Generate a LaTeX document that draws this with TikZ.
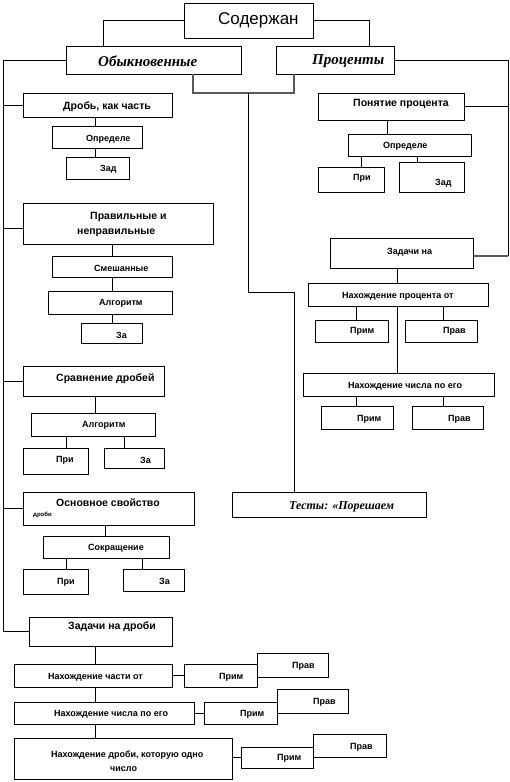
\documentclass[tikz,border=0pt]{standalone}
\usepackage{fontspec}
\setmainfont{Liberation Sans}
\newfontfamily\serifbi{Liberation Serif}
\usetikzlibrary{fit}
\tikzset{
  box/.style={draw, line width=0.8pt, inner sep=0pt, fill=white},
  sm/.style={font=\fontsize{9}{10}\selectfont\bfseries, inner sep=0pt, anchor=west},
  hd/.style={font=\fontsize{10.5}{13}\selectfont\bfseries, inner sep=0pt, anchor=west},
  itx/.style={font=\serifbi\fontsize{15}{17}\selectfont\bfseries\itshape, inner sep=0pt, anchor=west},
  ttl/.style={font=\fontsize{17}{19}\selectfont, inner sep=0pt, anchor=west},
  ln/.style={line width=0.8pt},
  gln/.style={line width=1.3pt, draw=gray!70!black}
}
% [style]{name}{x1}{y1}{x2}{y2}{text x}{text y}{text}
\newcommand\bx[9][sm]{%
  \node[box, fit={(#3,#4)(#5,#6)}] (#2) {};
  \node[#1] (#2-t) at (#7,#8) {#9};
}
\newcommand\vl[3]{\draw[ln] (#1,0 |- #2.south) -- (#1,0 |- #3.north);}
\begin{document}
\begin{tikzpicture}[x=1pt,y=-1pt]
\useasboundingbox (0,0) rectangle (509,782);
% top
\bx[ttl]{title}{184}{3}{313}{38}{218}{20}{Содержан}
\bx[itx]{obyk}{66}{46}{241}{74}{98}{61}{Обыкновенные}
\bx[itx]{proc}{276}{46}{394}{74}{312}{61}{Проценты}
% left column
\bx[hd]{drob}{23}{93}{172}{117}{63}{107}{Дробь, как часть}
\bx{opr1}{52}{126}{142}{148}{86}{139}{Определе}
\bx{zad1}{66}{157}{129}{179}{100}{169}{Зад}
\node[box, fit={(23,203)(213,244)}] (prav) {};
\node[font=\fontsize{10.5}{15}\selectfont\bfseries, inner sep=0pt, anchor=west, align=left] (prav-t) at (77,224.5) {\hspace*{13pt}Правильные и\\неправильные};
\bx{smesh}{52}{256}{172}{277}{94}{268}{Смешанные}
\bx{alg1}{48}{291}{172}{314}{99}{303}{Алгоритм}
\bx{za1}{81}{323}{142}{343}{116}{335}{За}
\bx[hd]{srav}{23}{366}{164}{396}{56}{379}{Сравнение дробей}
\bx{alg2}{31}{413}{155}{436}{82}{425}{Алгоритм}
\bx{pri3}{23}{448}{88}{474}{56}{460}{При}
\bx{za3}{104}{448}{164}{468}{140}{460}{За}
\bx[hd]{osn}{23}{492}{194}{525}{56}{503}{Основное свойство}
\node[font=\fontsize{6}{7}\selectfont\bfseries, inner sep=0pt, anchor=west] (osn-s) at (33,515) {дроби};
\bx{sokr}{43}{536}{169}{558}{88}{548}{Сокращение}
\bx{pri4}{23}{569}{88}{594}{57}{582}{При}
\bx{za4}{123}{569}{184}{591}{159}{581}{За}
\bx[hd]{zadd}{29}{617}{172}{646}{68}{627}{Задачи на дроби}
\bx{nch}{14}{664}{172}{687}{48}{677}{Нахождение части от}
\bx{prim1}{184}{664}{257}{687}{219}{677}{Прим}
\bx{prav1}{257}{653}{328}{677}{292}{666}{Прав}
\bx{nchs}{14}{702}{194}{724}{54}{714}{Нахождение числа по его}
\bx{prim2}{204}{702}{277}{724}{240}{714}{Прим}
\bx{prav2}{277}{689}{348}{713}{313}{702}{Прав}
\node[box, fit={(14,738)(232,779)}] (ndr) {};
\node[font=\fontsize{9}{14}\selectfont\bfseries, inner sep=0pt, anchor=west, align=left] (ndr-t) at (51,761) {Нахождение дроби, которую одно\\\hspace*{59pt}число};
\bx{prim3}{241}{747}{313}{768}{277}{758}{Прим}
\bx{prav3}{313}{734}{386}{757}{350}{747}{Прав}
% right column
\bx[hd]{pon}{318}{93}{464}{120}{353}{104}{Понятие процента}
\bx{opr2}{348}{134}{471}{156}{383}{146}{Определе}
\bx{pri2}{318}{167}{384}{192}{353}{178}{При}
\bx{zad2}{399}{162}{464}{192}{435}{183}{Зад}
\bx{zadp}{330}{238}{473}{268}{387}{252}{Задачи на}
\bx{nproc}{308}{283}{488}{306}{342}{296}{Нахождение процента от}
\bx{prim4}{315}{320}{388}{342}{350}{331}{Прим}
\bx{prav4}{405}{320}{477}{342}{443}{331}{Прав}
\bx{nchp}{303}{373}{494}{396}{348}{386}{Нахождение числа по его}
\bx{prim5}{321}{406}{393}{429}{357}{419}{Прим}
\bx{prav5}{412}{406}{483}{429}{448}{419}{Прав}
\node[box, fit={(232,492)(426,517)}] (tests) {};
\node[font=\serifbi\fontsize{12}{14}\selectfont\bfseries\itshape, inner sep=0pt, anchor=west] (tests-t) at (289,507) {Тесты: «Порешаем};
% spines
\coordinate (ls) at (3,0);
\coordinate (rs) at (508,0);
\coordinate (cj) at (248,93);
\coordinate (cb) at (294,292);
\draw[ln] (title.west) -| (103,0 |- obyk.north);
\draw[ln] (title.east) -| (369,0 |- proc.north);
\draw[ln] (obyk.west) -| (ls |- zadd.west) -- (zadd.west);
\draw[ln] (ls |- drob.west) -- (drob.west);
\draw[ln] (ls |- 0,228) -- (prav.west |- 0,228);
\draw[ln] (ls |- srav.west) -- (srav.west);
\draw[ln] (ls |- osn.west) -- (osn.west);
\draw[ln] (proc.east) -| (rs |- pon.east) -- (pon.east);
\draw[ln] (rs |- pon.east) -- (rs |- 0,256);
\draw[gln] (rs |- 0,256) -- (zadp.east |- 0,256);
\draw[gln] (193,0 |- obyk.south) |- (cj) -| (294,0 |- proc.south);
\draw[ln] (cj) |- (cb) -- (cb |- tests.north);
% children
\vl{95}{drob}{opr1}
\vl{95}{opr1}{zad1}
\vl{112}{prav}{smesh}
\vl{112}{smesh}{alg1}
\vl{112}{alg1}{za1}
\vl{95}{srav}{alg2}
\vl{66}{alg2}{pri3}
\vl{124}{alg2}{za3}
\vl{105}{osn}{sokr}
\vl{66}{sokr}{pri4}
\vl{142}{sokr}{za4}
\vl{95}{zadd}{nch}
\vl{95}{nch}{nchs}
\vl{95}{nchs}{ndr}
\draw[ln] (nch.east) -- (prim1.west);
\draw[ln] (nchs.east) -- (prim2.west);
\draw[ln] (ndr.east |- prim3.west) -- (prim3.west);
\vl{387}{pon}{opr2}
\vl{361}{opr2}{pri2}
\vl{417}{opr2}{zad2}
\vl{397}{zadp}{nproc}
\vl{356}{nproc}{prim4}
\vl{443}{nproc}{prav4}
\vl{397}{nproc}{nchp}
\vl{356}{nchp}{prim5}
\vl{443}{nchp}{prav5}
\end{tikzpicture}
\end{document}
